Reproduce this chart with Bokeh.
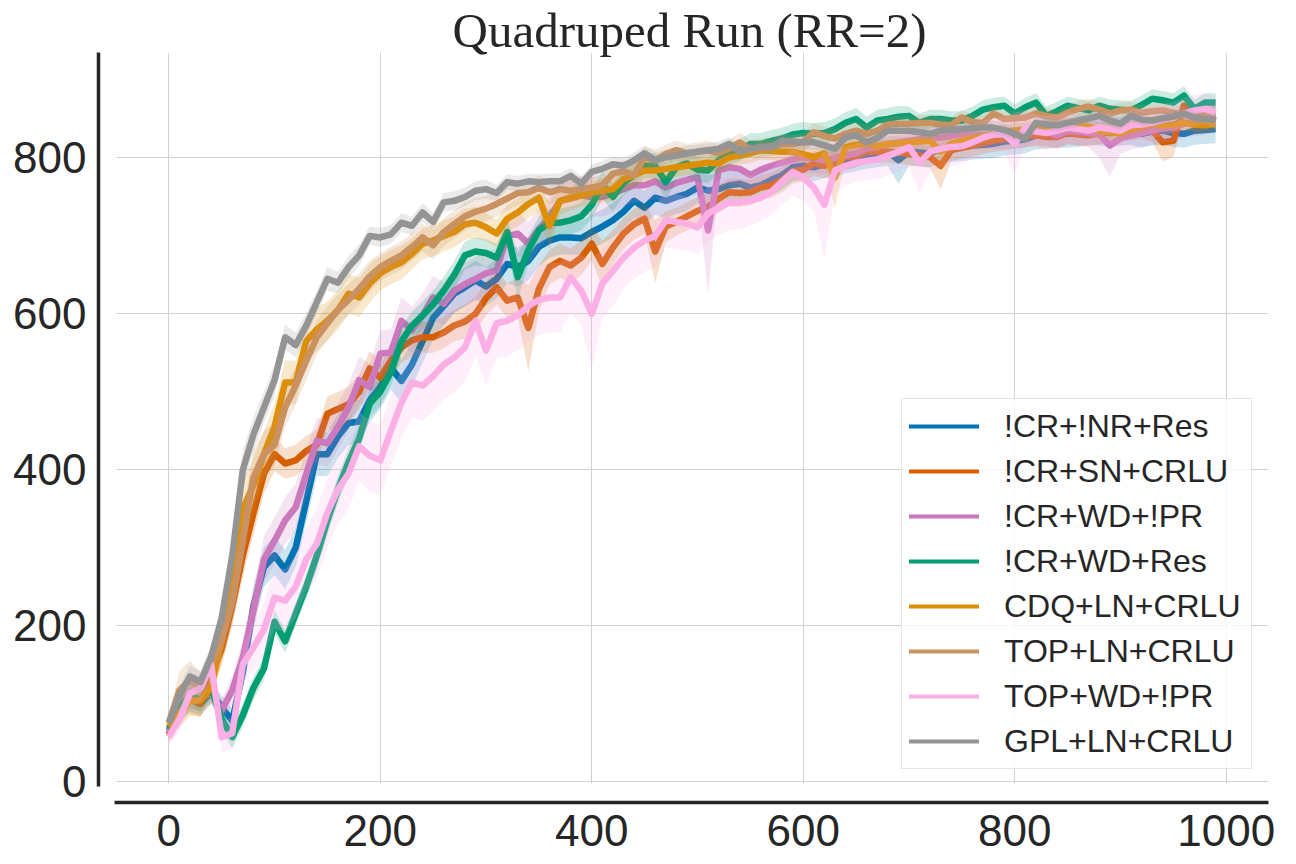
import numpy as np
from bokeh.plotting import figure
from bokeh.models import (Range1d, FixedTicker, Legend, LegendItem, BoxAnnotation)
from bokeh.embed import file_html
from bokeh.resources import INLINE

# ---------------- data ----------------
steps = list(range(0, 1000, 10))

labels = ["!CR+!NR+Res", "!CR+SN+CRLU", "!CR+WD+!PR", "!CR+WD+Res",
          "CDQ+LN+CRLU", "TOP+LN+CRLU", "TOP+WD+!PR", "GPL+LN+CRLU"]
colors = ["#0173b2", "#d55e00", "#cc78bc", "#029e73",
          "#de8f05", "#ca9161", "#fbafe4", "#949494"]

blue_mean = [65, 90, 105, 100, 115, 95, 78, 140, 225, 275,
             290, 272, 300, 360, 420, 420, 443, 460, 462, 489,
             506, 531, 514, 535, 565, 595, 610, 626, 634, 643,
             635, 645, 664, 660, 668, 686, 694, 698, 698, 697,
             705, 712, 720, 731, 745, 736, 749, 745, 750, 754,
             762, 758, 760, 765, 767, 762, 765, 772, 778, 788,
             790, 788, 792, 793, 798, 801, 804, 806, 808, 797,
             808, 807, 806, 812, 813, 814, 816, 817, 818, 821,
             822, 824, 829, 830, 831, 831, 832, 835, 834, 832,
             834, 835, 831, 834, 835, 832, 831, 835, 836, 837]
red_mean = [60, 95, 105, 100, 135, 170, 225, 290, 344, 395,
            420, 408, 412, 424, 432, 472, 478, 484, 500, 530,
            518, 540, 557, 566, 570, 570, 576, 585, 590, 600,
            620, 634, 617, 621, 582, 632, 660, 668, 662, 672,
            690, 664, 685, 703, 715, 722, 680, 712, 718, 725,
            732, 737, 748, 756, 755, 756, 762, 765, 772, 783,
            785, 793, 790, 795, 801, 802, 808, 808, 808, 807,
            805, 803, 801, 790, 810, 813, 816, 819, 822, 824,
            826, 828, 829, 827, 827, 832, 830, 829, 832, 833,
            835, 837, 839, 835, 820, 822, 867, 848, 849, 854]
purple_mean = [62, 90, 110, 105, 115, 91, 117, 159, 220, 285,
               309, 335, 352, 395, 437, 434, 455, 480, 515, 506,
               549, 550, 591, 579, 598, 621, 613, 630, 638, 645,
               652, 656, 700, 703, 690, 709, 724, 745, 748, 752,
               750, 750, 754, 760, 765, 765, 770, 762, 768, 772,
               775, 707, 784, 788, 786, 778, 785, 790, 794, 798,
               801, 799, 797, 800, 803, 806, 812, 814, 818, 820,
               822, 824, 825, 826, 828, 831, 830, 829, 830, 829,
               830, 831, 835, 834, 829, 835, 834, 832, 830, 816,
               825, 829, 832, 835, 838, 839, 844, 846, 848, 851]
green_mean = [68, 95, 110, 105, 120, 80, 57, 85, 120, 145,
              205, 180, 215, 250, 290, 335, 375, 410, 440, 485,
              500, 525, 565, 585, 598, 612, 630, 650, 675, 680,
              678, 672, 705, 647, 682, 707, 717, 717, 720, 725,
              740, 765, 750, 768, 778, 790, 790, 769, 788, 793,
              785, 784, 797, 805, 810, 818, 818, 822, 825, 830,
              832, 831, 832, 837, 845, 850, 839, 848, 850, 853,
              854, 845, 850, 850, 848, 848, 854, 862, 865, 867,
              857, 865, 871, 854, 860, 867, 864, 861, 867, 863,
              862, 861, 868, 876, 874, 871, 880, 863, 871, 871]
orange_mean = [70, 87, 104, 104, 121, 181, 255, 350, 380, 420,
               455, 512, 512, 565, 580, 591, 605, 626, 621, 639,
               652, 660, 666, 677, 690, 694, 700, 705, 715, 717,
               711, 703, 722, 730, 741, 749, 713, 745, 749, 752,
               756, 758, 760, 773, 778, 784, 784, 786, 788, 790,
               792, 794, 793, 801, 803, 806, 810, 809, 808, 808,
               805, 801, 806, 775, 814, 817, 818, 815, 818, 819,
               820, 821, 822, 808, 818, 822, 825, 828, 830, 833,
               835, 836, 837, 839, 840, 842, 843, 840, 835, 833,
               832, 837, 841, 844, 842, 843, 845, 843, 842, 844]
brown_mean = [75, 117, 130, 120, 151, 181, 230, 310, 390, 420,
              432, 480, 508, 540, 570, 588, 605, 618, 632, 648,
              660, 668, 675, 686, 698, 688, 705, 715, 725, 731,
              735, 741, 748, 755, 756, 762, 756, 760, 758, 760,
              762, 765, 780, 783, 778, 801, 797, 805, 810, 806,
              808, 810, 806, 812, 820, 811, 813, 815, 818, 818,
              820, 833, 828, 825, 831, 835, 831, 835, 843, 844,
              844, 845, 845, 843, 842, 852, 846, 845, 857, 850,
              851, 852, 857, 854, 852, 858, 863, 866, 862, 857,
              861, 862, 858, 860, 861, 858, 856, 852, 855, 857]
pink_mean = [57, 80, 113, 120, 150, 57, 62, 150, 172, 195,
             236, 232, 250, 285, 305, 345, 375, 395, 430, 418,
             412, 450, 486, 512, 508, 520, 535, 544, 557, 591,
             553, 588, 591, 598, 610, 618, 621, 621, 647, 630,
             600, 639, 655, 672, 685, 694, 700, 720, 718, 716,
             711, 729, 736, 743, 743, 745, 749, 757, 770, 782,
             775, 762, 740, 784, 790, 794, 796, 798, 803, 808,
             814, 794, 808, 812, 814, 815, 820, 826, 830, 831,
             818, 839, 834, 832, 835, 839, 837, 835, 839, 837,
             835, 842, 843, 845, 849, 852, 857, 861, 863, 858]
gray_mean = [75, 110, 135, 128, 160, 210, 290, 400, 445, 480,
             515, 570, 560, 585, 615, 645, 640, 660, 675, 700,
             698, 702, 717, 713, 730, 718, 743, 745, 750, 758,
             760, 755, 769, 767, 770, 769, 770, 770, 777, 767,
             782, 786, 792, 790, 797, 806, 797, 801, 803, 806,
             808, 810, 812, 818, 808, 812, 814, 814, 822, 821,
             820, 820, 816, 812, 826, 829, 820, 826, 835, 835,
             835, 833, 831, 835, 836, 837, 838, 839, 839, 836,
             831, 825, 845, 843, 842, 845, 848, 851, 854, 848,
             844, 854, 849, 848, 851, 853, 857, 852, 850, 849]

blue_sd = [10, 15, 15, 15, 15, 15, 15, 20, 25, 25,
           25, 25, 25, 28, 28, 28, 28, 28, 28, 28,
           28, 28, 28, 28, 28, 28, 25, 25, 25, 25,
           25, 25, 25, 25, 25, 25, 22, 22, 22, 22,
           22, 22, 22, 22, 22, 22, 22, 22, 22, 22,
           20, 20, 20, 20, 20, 20, 20, 20, 18, 18,
           18, 18, 18, 18, 18, 18, 18, 18, 18, 30,
           18, 18, 18, 18, 18, 18, 18, 18, 18, 18,
           18, 18, 18, 18, 18, 18, 18, 18, 18, 18,
           18, 18, 18, 18, 18, 18, 18, 18, 18, 18]
red_sd = [10, 15, 18, 18, 20, 22, 25, 28, 28, 25,
          22, 20, 20, 20, 20, 22, 22, 22, 22, 22,
          22, 22, 20, 20, 20, 20, 20, 20, 22, 22,
          22, 22, 22, 25, 55, 30, 22, 22, 22, 22,
          22, 30, 22, 20, 20, 20, 40, 20, 18, 18,
          18, 18, 18, 18, 18, 16, 16, 16, 16, 16,
          16, 16, 16, 16, 16, 14, 14, 14, 14, 14,
          14, 14, 14, 30, 14, 14, 14, 14, 14, 14,
          14, 14, 14, 14, 14, 14, 14, 14, 14, 14,
          14, 14, 14, 14, 25, 20, 20, 16, 14, 14]
purple_sd = [10, 15, 15, 15, 15, 15, 18, 22, 28, 30,
             30, 30, 30, 30, 30, 30, 30, 30, 30, 30,
             30, 30, 30, 30, 28, 28, 28, 28, 28, 28,
             28, 28, 28, 28, 28, 25, 25, 25, 25, 25,
             25, 25, 25, 22, 22, 22, 22, 22, 22, 22,
             22, 80, 22, 20, 20, 20, 20, 20, 20, 20,
             20, 18, 18, 18, 18, 18, 18, 18, 18, 18,
             18, 18, 18, 18, 18, 18, 18, 18, 18, 18,
             18, 18, 18, 18, 18, 18, 18, 18, 30, 40,
             20, 18, 18, 18, 18, 18, 18, 18, 18, 18]
green_sd = [10, 15, 15, 15, 15, 15, 15, 15, 15, 15,
            15, 15, 15, 15, 18, 18, 18, 18, 18, 18,
            18, 18, 18, 18, 18, 18, 18, 18, 18, 18,
            18, 18, 18, 30, 18, 18, 18, 18, 18, 18,
            18, 18, 18, 16, 16, 16, 16, 25, 16, 16,
            16, 16, 16, 14, 14, 14, 14, 14, 14, 14,
            14, 14, 14, 14, 14, 14, 14, 14, 14, 14,
            12, 12, 12, 12, 12, 12, 12, 12, 12, 12,
            12, 12, 12, 12, 12, 12, 12, 12, 12, 12,
            12, 12, 12, 12, 12, 12, 12, 12, 12, 12]
orange_sd = [10, 18, 20, 20, 22, 25, 30, 35, 35, 30,
             30, 28, 28, 28, 28, 25, 25, 25, 25, 25,
             22, 22, 22, 20, 20, 20, 20, 20, 20, 20,
             18, 18, 18, 18, 18, 18, 30, 18, 16, 15,
             15, 15, 15, 14, 14, 14, 14, 12, 12, 12,
             12, 12, 12, 12, 12, 12, 12, 12, 12, 12,
             12, 12, 12, 40, 12, 12, 12, 10, 10, 10,
             10, 10, 10, 25, 10, 10, 10, 10, 10, 10,
             10, 10, 10, 10, 10, 10, 10, 10, 10, 10,
             10, 10, 10, 10, 10, 10, 10, 10, 10, 10]
brown_sd = [10, 25, 25, 20, 22, 25, 30, 35, 35, 30,
            28, 25, 25, 25, 22, 22, 20, 20, 20, 20,
            18, 18, 18, 18, 18, 18, 18, 18, 18, 18,
            16, 16, 16, 16, 16, 15, 15, 15, 15, 15,
            14, 14, 14, 14, 14, 14, 14, 12, 12, 12,
            12, 12, 12, 12, 12, 12, 12, 12, 12, 12,
            12, 12, 12, 12, 12, 12, 12, 12, 10, 10,
            10, 10, 10, 10, 10, 10, 10, 10, 10, 10,
            10, 10, 10, 10, 10, 10, 10, 10, 10, 10,
            10, 10, 10, 10, 10, 10, 10, 10, 10, 10]
pink_sd = [10, 15, 18, 18, 20, 20, 20, 25, 30, 35,
           40, 40, 40, 40, 45, 45, 45, 45, 45, 45,
           45, 45, 45, 45, 45, 45, 45, 45, 45, 45,
           45, 45, 45, 45, 45, 45, 45, 45, 45, 45,
           70, 45, 45, 40, 40, 40, 40, 35, 35, 35,
           35, 35, 35, 35, 35, 32, 30, 30, 30, 30,
           30, 30, 70, 30, 25, 25, 25, 25, 25, 25,
           25, 40, 25, 25, 25, 22, 22, 22, 22, 22,
           40, 22, 22, 22, 20, 20, 20, 20, 20, 20,
           20, 20, 20, 20, 20, 20, 20, 20, 20, 20]
gray_sd = [8, 12, 14, 14, 14, 18, 22, 25, 22, 20,
           20, 16, 16, 16, 15, 15, 14, 14, 14, 12,
           12, 12, 12, 12, 12, 12, 12, 12, 12, 12,
           12, 10, 10, 10, 10, 10, 10, 10, 10, 10,
           10, 10, 10, 10, 10, 10, 10, 10, 10, 10,
           9, 9, 9, 9, 9, 9, 9, 9, 9, 9,
           9, 9, 9, 9, 9, 9, 9, 9, 9, 9,
           8, 8, 8, 8, 8, 8, 8, 8, 8, 8,
           8, 8, 8, 8, 8, 8, 8, 8, 8, 8,
           8, 8, 8, 8, 8, 8, 8, 8, 8, 8]

means = [blue_mean, red_mean, purple_mean, green_mean,
         orange_mean, brown_mean, pink_mean, gray_mean]
sds = [blue_sd, red_sd, purple_sd, green_sd,
       orange_sd, brown_sd, pink_sd, gray_sd]

x_ticks = [0, 200, 400, 600, 800, 1000]
y_ticks = [0, 200, 400, 600, 800]
title_text = "Quadruped Run (RR=2)"

# ---------------- figure ----------------
X0, X1 = -66.5, 1040.0
Y0, Y1 = -26.9, 935.3
INNER_X0, INNER_Y0 = -49.5, -2.6

p = figure(width=1280, height=856, output_backend="svg", toolbar_location=None,
           x_range=Range1d(X0, X1), y_range=Range1d(Y0, Y1),
           min_border_left=98, min_border_right=12, min_border_top=52,
           min_border_bottom=54)
p.outline_line_color = None
p.background_fill_color = "white"
p.border_fill_color = "white"

p.title.text = title_text
p.title.text_font = "Liberation Serif"
p.title.text_font_size = "49px"
p.title.text_font_style = "normal"
p.title.text_color = "#262626"
p.title.align = "left"
p.title.offset = 354
p.title.standoff = -11

for ax, ticks in ((p.xaxis[0], x_ticks), (p.yaxis[0], y_ticks)):
    ax.ticker = FixedTicker(ticks=ticks)
    ax.axis_line_color = "#262626"
    ax.axis_line_width = 3.5
    ax.major_tick_line_color = None
    ax.minor_tick_line_color = None
    ax.major_label_text_font = "Liberation Sans"
    ax.major_label_text_font_size = "44px"
    ax.major_label_text_color = "#262626"
    ax.major_label_standoff = 6
p.xaxis[0].bounds = (-51.3, X1)
p.yaxis[0].bounds = (-6.4, Y1)

p.xgrid.ticker = FixedTicker(ticks=x_ticks)
p.ygrid.ticker = FixedTicker(ticks=y_ticks)
p.grid.grid_line_color = "#d2d2d2"
p.grid.grid_line_width = 1

# white strips reproducing the offset spines (grid stops short of them)
p.add_layout(BoxAnnotation(left=X0, right=INNER_X0, bottom=Y0, top=Y1,
                           fill_color="white", fill_alpha=1, line_alpha=0,
                           level="underlay"))
p.add_layout(BoxAnnotation(left=X0, right=X1, bottom=Y0, top=INNER_Y0,
                           fill_color="white", fill_alpha=1, line_alpha=0,
                           level="underlay"))

xs = np.array(steps, dtype=float)
items = []
for lab, col, m, s in zip(labels, colors, means, sds):
    assert len(m) == len(steps) and len(s) == len(steps), lab
    m = np.array(m, dtype=float)
    s = np.array(s, dtype=float)
    p.varea(x=xs, y1=m - s, y2=m + s, fill_color=col, fill_alpha=0.2)
    p.line(x=xs, y=m, line_color=col, line_width=6.5, line_join="round")
    dummy = p.line(x=[np.nan], y=[np.nan], line_color=col, line_width=4,
                   line_cap="round")
    items.append(LegendItem(label=lab, renderers=[dummy]))

legend = Legend(items=items, location=(803, 33))
legend.label_text_font = "Liberation Sans"
legend.label_text_font_size = "32px"
legend.label_text_color = "#262626"
legend.glyph_width = 70
legend.glyph_height = 40
legend.label_height = 40
legend.label_width = 240
legend.label_standoff = 25
legend.spacing = 5
legend.padding = 7
legend.margin = 0
legend.border_line_color = "#cccccc"
legend.border_line_width = 1
legend.background_fill_color = "white"
legend.background_fill_alpha = 0.8
p.add_layout(legend)

open("out.html", "w").write(file_html(p, INLINE))
